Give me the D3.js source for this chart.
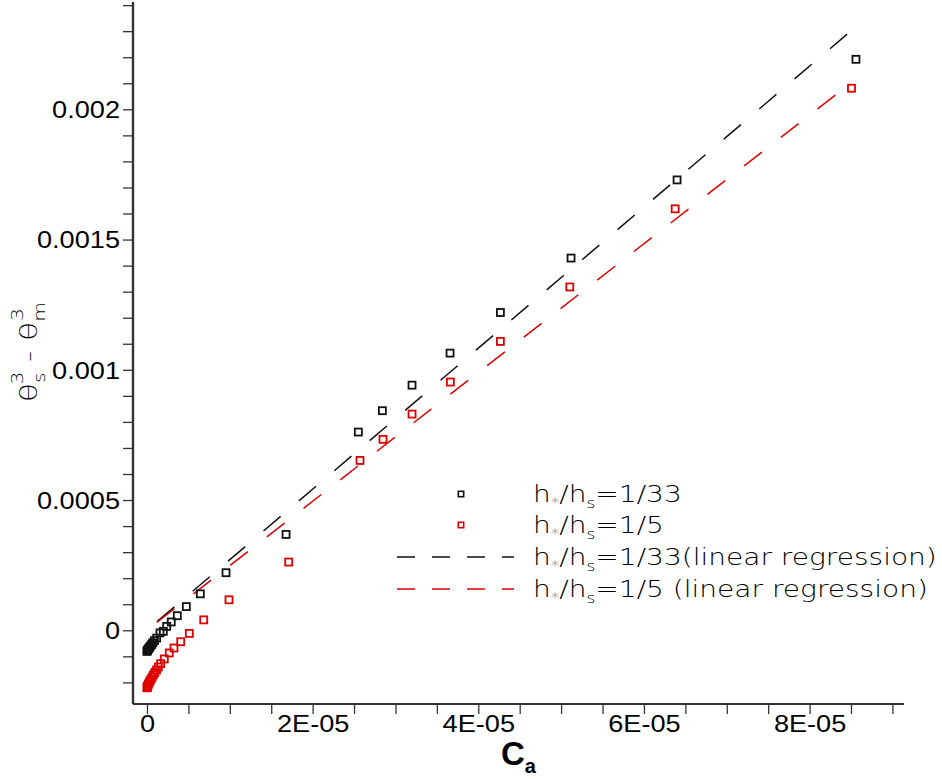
<!DOCTYPE html>
<html>
<head>
<meta charset="utf-8">
<script src="https://cdn.jsdelivr.net/npm/d3@7"></script>
<style>
  html, body { margin: 0; padding: 0; background: #fff; }
  svg { display: block; }
</style>
</head>
<body>
<svg id="chart" width="942" height="779"></svg>
<script>
// ---- data ----
const seriesNames = ["1/33", "1/5"];
// h*/hs = 1/33 : Ca values and theta_s^3 - theta_m^3
const caBlack = [8.56e-5, 6.40e-5, 5.12e-5, 4.267e-5, 3.659e-5, 3.200e-5, 2.842e-5, 2.552e-5,
  1.679e-5, 0.954e-5, 0.644e-5, 0.475e-5, 0.366e-5, 0.293e-5, 0.238e-5, 0.197e-5, 0.157e-5, 0.117e-5,
  0.090e-5, 0.070e-5, 0.055e-5, 0.040e-5, 0.030e-5, 0.020e-5, 0.012e-5, 0.006e-5, 0.002e-5, 0.0];
const thBlack = [2.192e-3, 1.729e-3, 1.429e-3, 1.220e-3, 1.064e-3, 0.941e-3, 0.843e-3, 0.761e-3,
  0.368e-3, 0.221e-3, 0.140e-3, 0.091e-3, 0.056e-3, 0.032e-3, 0.015e-3, -0.004e-3, -0.010e-3, -0.030e-3,
  -0.040e-3, -0.048e-3, -0.055e-3, -0.061e-3, -0.066e-3, -0.070e-3, -0.074e-3, -0.077e-3, -0.079e-3, -0.081e-3];
// h*/hs = 1/5
const caRed = [8.506e-5, 6.377e-5, 5.105e-5, 4.267e-5, 3.663e-5, 3.200e-5, 2.850e-5, 2.572e-5,
  1.711e-5, 0.990e-5, 0.685e-5, 0.511e-5, 0.407e-5, 0.326e-5, 0.269e-5, 0.209e-5, 0.165e-5, 0.137e-5,
  0.115e-5, 0.095e-5, 0.078e-5, 0.062e-5, 0.048e-5, 0.036e-5, 0.026e-5, 0.017e-5, 0.010e-5, 0.005e-5, 0.002e-5, 0.0];
const thRed = [2.081e-3, 1.618e-3, 1.318e-3, 1.109e-3, 0.953e-3, 0.830e-3, 0.733e-3, 0.652e-3,
  0.262e-3, 0.117e-3, 0.040e-3, -0.012e-3, -0.044e-3, -0.068e-3, -0.087e-3, -0.110e-3, -0.128e-3, -0.141e-3,
  -0.152e-3, -0.162e-3, -0.171e-3, -0.180e-3, -0.188e-3, -0.195e-3, -0.201e-3, -0.207e-3, -0.212e-3, -0.216e-3, -0.219e-3, -0.221e-3];
// linear regression lines (end points)
const fitBlackCa = [0.124e-5, 8.551e-5];
const fitBlackTh = [0.034e-3, 2.315e-3];
const fitRedCa = [0.117e-5, 8.518e-5];
const fitRedTh = [0.030e-3, 2.106e-3];
// axes
const xDomain = [-1.69e-6, 9.14e-5];
const yDomain = [-0.000283, 0.002412];
const xMajor = [0, 2e-5, 4e-5, 6e-5, 8e-5];
const xMajorLabels = ["0", "2E-05", "4E-05", "6E-05", "8E-05"];
const xMinor = [5e-6, 1e-5, 1.5e-5, 2.5e-5, 3e-5, 3.5e-5, 4.5e-5, 5e-5, 5.5e-5, 6.5e-5, 7e-5, 7.5e-5, 8.5e-5, 9e-5];
const yMajor = [0, 0.0005, 0.001, 0.0015, 0.002];
const yMajorLabels = ["0", "0.0005", "0.001", "0.0015", "0.002"];
const yMinor = [-0.0002, -0.0001, 0.0001, 0.0002, 0.0003, 0.0004, 0.0006, 0.0007, 0.0008, 0.0009,
  0.0011, 0.0012, 0.0013, 0.0014, 0.0016, 0.0017, 0.0018, 0.0019, 0.0021, 0.0022, 0.0023, 0.0024];
const legendTails = ["=1/33", "=1/5", "=1/33(linear regression)", "=1/5 (linear regression)"];

// ---- drawing ----
const svg = d3.select("#chart");
const BLACK = "#111111", RED = "#dd0000", AXIS = "#333333";
const x = d3.scaleLinear().domain(xDomain).range([133, 904]);
const y = d3.scaleLinear().domain(yDomain).range([704, 2]);
const tickFont = "'Liberation Sans', Arial, sans-serif";
const thinFont = "'DejaVu Sans', sans-serif";

// regression lines
const line = d3.line().x(d => x(d[0])).y(d => y(d[1]));
const fits = [
  {ca: fitBlackCa, th: fitBlackTh, color: BLACK},
  {ca: fitRedCa, th: fitRedTh, color: RED}
];
fits.forEach(f => {
  svg.append("path")
    .datum(f.ca.map((c, i) => [c, f.th[i]]))
    .attr("d", line)
    .attr("fill", "none")
    .attr("stroke", f.color)
    .attr("stroke-width", 1.5)
    .attr("stroke-dasharray", "22.5,24");
});

// scatter squares
const series = [
  {ca: caBlack, th: thBlack, color: BLACK},
  {ca: caRed, th: thRed, color: RED}
];
const S = 7;
series.forEach(s => {
  svg.append("g").selectAll("rect")
    .data(s.ca.map((c, i) => [c, s.th[i]]))
    .join("rect")
    .attr("x", d => x(d[0]) - S / 2)
    .attr("y", d => y(d[1]) - S / 2)
    .attr("width", S).attr("height", S)
    .attr("fill", "none")
    .attr("stroke", s.color)
    .attr("stroke-width", 1.8);
});

// axes
const xAxisG = svg.append("g").attr("transform", "translate(0,704)");
xAxisG.call(d3.axisBottom(x).tickValues(xMajor).tickSize(10).tickFormat((d, i) => xMajorLabels[i]));
const xMinorG = svg.append("g").attr("transform", "translate(0,704)");
xMinorG.call(d3.axisBottom(x).tickValues(xMinor).tickSize(10).tickFormat(""));
const yAxisG = svg.append("g").attr("transform", "translate(133,0)");
yAxisG.call(d3.axisLeft(y).tickValues(yMajor).tickSize(10).tickFormat((d, i) => yMajorLabels[i]));
const yMinorG = svg.append("g").attr("transform", "translate(133,0)");
yMinorG.call(d3.axisLeft(y).tickValues(yMinor).tickSize(10).tickFormat(""));

[xAxisG, xMinorG, yAxisG, yMinorG].forEach(g => {
  g.select(".domain").attr("stroke", AXIS).attr("stroke-width", 2.2)
    .attr("d", g === xAxisG || g === xMinorG ? "M133,0H904" : "M0,704V2");
  g.selectAll(".tick line").attr("stroke", AXIS).attr("stroke-width", 1.3);
  g.selectAll(".tick text").attr("font-family", tickFont).attr("font-size", 23).attr("fill", "#000");
});
xAxisG.selectAll(".tick text").attr("dy", "0.71em").attr("y", 12);
yAxisG.selectAll(".tick text").attr("x", -13).attr("dy", "0.36em");
// widen tick labels to match the reference's wide face
[xAxisG, yAxisG].forEach(g => {
  g.selectAll(".tick text").each(function () {
    const w = this.getComputedTextLength();
    d3.select(this).attr("textLength", w * 1.18).attr("lengthAdjust", "spacingAndGlyphs");
  });
});

// x title
const xt = svg.append("text")
  .attr("x", 501).attr("y", 765)
  .attr("font-family", tickFont).attr("font-weight", "bold").attr("font-size", 33).attr("fill", "#000");
xt.append("tspan").text("C");
xt.append("tspan").attr("font-size", 20).attr("dy", 8).text("a");

// y title (rotated)
const ytG = svg.append("g");
const yt = ytG.append("text")
  .attr("font-family", thinFont).attr("font-weight", 200).attr("font-size", 23).attr("fill", "#000");
yt.append("tspan").text("θ");
yt.append("tspan").attr("font-size", 15).attr("dy", 8).text("s");
yt.append("tspan").attr("font-size", 15).attr("dy", -22).attr("dx", -9).text("3");
yt.append("tspan").attr("dy", 14).text(" - θ");
yt.append("tspan").attr("font-size", 15).attr("dy", 8).text("m");
yt.append("tspan").attr("font-size", 15).attr("dy", -22).attr("dx", -14).text("3");
const ytw = yt.node().getBBox().width;
ytG.attr("transform", `translate(37,402) rotate(-90) scale(${100 / ytw},1)`);

// legend
const legY = [494, 525, 557, 589];
const legColors = [BLACK, RED, BLACK, RED];
const leg = svg.append("g");
const legTexts = [];
legY.forEach((ly, i) => {
  if (i < 2) {
    leg.append("rect").attr("x", 461 - 2.7).attr("y", ly - 2.7).attr("width", 5.4).attr("height", 5.4)
      .attr("fill", "none").attr("stroke", legColors[i]).attr("stroke-width", 1.6);
  } else {
    leg.append("line").attr("x1", 397).attr("x2", 514).attr("y1", ly).attr("y2", ly)
      .attr("stroke", legColors[i]).attr("stroke-width", 1.5).attr("stroke-dasharray", "18,17");
  }
  const tg = leg.append("g");
  const t = tg.append("text").attr("x", 0).attr("y", 0)
    .attr("font-family", thinFont).attr("font-weight", 200).attr("font-size", 23).attr("fill", "#000");
  t.append("tspan").text("h");
  t.append("tspan").attr("font-size", 14).attr("dy", 5).attr("fill", "#555").text("*");
  t.append("tspan").attr("dy", -5).text("/h");
  t.append("tspan").attr("font-size", 14).attr("dy", 6).text("s");
  t.append("tspan").attr("dy", -6).text(legendTails[i]);
  legTexts.push({g: tg, t: t, ly: ly});
});
const refW = legTexts[2].t.node().getBBox().width;
const kLeg = 404 / refW;
legTexts.forEach(o => o.g.attr("transform", `translate(533,${o.ly + 8}) scale(${kLeg},1)`));
</script>
</body>
</html>
